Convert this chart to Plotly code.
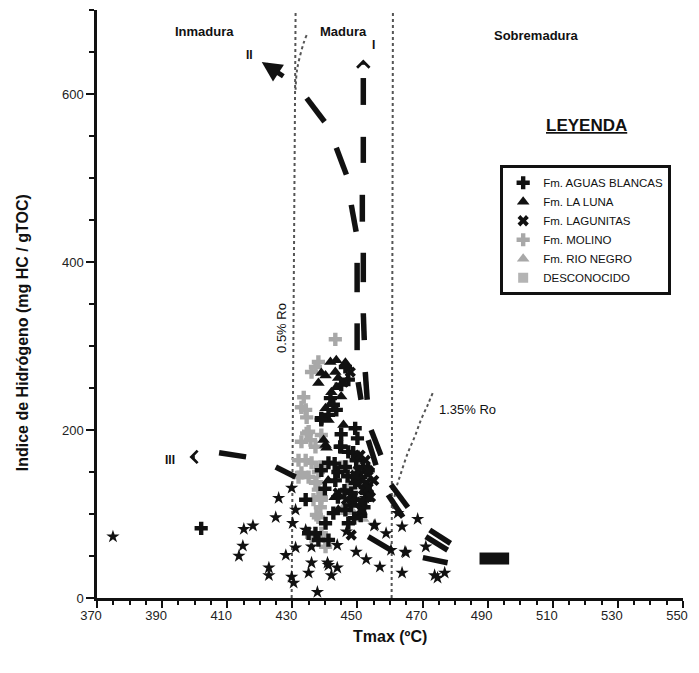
import plotly.graph_objects as go

# ---------------- data ----------------
# Samples without legend entry (black stars)
STAR_T = [374.9, 425.8, 424.9, 415.1, 417.9, 414.8, 413.6, 422.8, 422.8, 428.0, 429.8, 431.0, 430.1, 431.0, 429.8,
          430.4, 435.9, 437.7, 435.0, 435.9, 441.1, 442.0, 443.8, 434.1, 443.8, 440.8, 449.6, 452.7, 456.9, 455.1,
          458.8, 460.3, 464.6, 463.7, 463.7, 451.8, 452.4, 468.5, 464.9, 471.0, 473.7, 476.8, 474.6, 462.4, 446.6, 455.4]
STAR_HI = [73, 119, 96, 82, 86, 62, 50, 36, 27, 51, 131, 105, 89, 60, 25,
           18, 61, 7, 30, 42, 39, 27, 36, 81, 63, 42, 55, 46, 37, 86,
           77, 57, 55, 30, 85, 106, 119, 94, 54, 61, 27, 30, 24, 101, 79, 87]

# Fm. AGUAS BLANCAS
AB_T = [446.3, 447.2, 445.0, 441.7, 442.6, 443.5, 438.9, 441.1, 449.3, 445.0, 447.2, 441.1, 448.7, 449.6, 451.8,
        402.0, 438.9, 444.7, 446.3, 451.1, 443.2, 434.1, 448.1, 449.3, 452.4, 442.6, 446.3, 440.2, 447.2, 437.1,
        441.1, 449.3, 453.3, 452.4, 438.9, 435.0, 438.0, 445.0, 450.0, 447.0, 444.0, 450.0, 453.0, 446.0, 443.0,
        448.0, 451.0, 444.0, 440.0, 449.0, 452.0]
AB_HI = [275, 260, 254, 238, 230, 224, 214, 218, 202, 180, 174, 161, 173, 164, 156,
         83, 212, 180, 156, 144, 140, 117, 125, 117, 117, 101, 105, 89, 89, 77,
         69, 137, 152, 132, 152, 77, 69, 195, 190, 145, 150, 140, 125, 128, 160,
         110, 98, 120, 130, 95, 108]

# Fm. LA LUNA
LL_T = [441.7, 438.0, 444.1, 440.2, 443.2, 443.5, 440.2, 439.6, 440.2, 446.3, 443.5, 438.9, 440.5, 442.0, 444.1,
        441.1, 445.7, 442.0, 445.0, 441.0, 443.0]
LL_HI = [281, 256, 262, 265, 269, 251, 226, 188, 182, 280, 283, 268, 179, 232, 105,
         212, 206, 245, 240, 140, 120]

# Fm. LAGUNITAS
LG_T = [448.1, 451.1, 452.7, 453.3, 452.4, 451.1, 450.2, 451.8, 449.3, 450.8, 453.3, 446.6, 444.1, 445.7, 447.8,
        455.0, 454.0]
LG_HI = [75, 114, 137, 152, 164, 105, 152, 129, 146, 170, 131, 117, 125, 257, 269,
         140, 120]

# Fm. MOLINO
MO_T = [443.2, 438.0, 435.9, 437.1, 433.5, 432.8, 434.1, 434.4, 434.4, 435.6, 437.1, 432.8, 434.1, 435.9, 438.6,
        438.9, 435.0, 431.9, 438.0, 435.0, 431.9, 437.4, 438.0, 436.5, 438.6, 437.4, 438.9, 432.8, 437.1, 438.9,
        438.0, 438.9, 435.9, 440.2, 440.2]
MO_HI = [308, 281, 269, 275, 239, 227, 224, 215, 196, 188, 180, 186, 164, 161, 156,
         194, 198, 164, 150, 144, 144, 138, 129, 117, 108, 99, 120, 149, 137, 117,
         96, 77, 73, 69, 61]

# Fm. RIO NEGRO
RN_T = [451.8, 447.8, 446.3, 448.7, 450.2, 445.7]
RN_HI = [94, 105, 102, 102, 156, 108]

# DESCONOCIDO
DS_T = [449.6, 447.8, 445.7]
DS_HI = [149, 135, 158]

# Iso-reflectance (Ro) dotted lines: (Tmax, HI) vertices
RO05_T = [429.8, 431.0]
RO05_HI = [0, 697]
RO05_TOP_T = [434.4, 433.5, 431.5, 431.0]
RO05_TOP_HI = [670, 661, 630, 605]
RO_V460_T = [460.5, 460.9]
RO_V460_HI = [0, 697]
RO135_T = [473.1, 471.6, 469.5, 467.6, 465.5, 463.4, 461.8, 460.9]
RO135_HI = [244, 230, 212, 192, 173, 149, 129, 105]

# Kerogen evolution paths, drawn as dashes: [(T0, HI0, T1, HI1), ...]
KER_I = [(451.8, 619, 451.8, 587), (451.8, 549, 451.8, 518), (451.5, 480, 451.5, 448),
         (451.8, 411, 451.8, 376), (451.8, 339, 452.1, 307), (452.4, 269, 453.0, 236),
         (454.2, 200, 457.2, 170), (460.3, 135, 465.5, 108), (472.2, 81, 478.6, 65)]
KER_II = [(434.4, 595, 439.9, 567), (443.5, 536, 446.6, 504), (448.1, 468, 449.6, 436),
          (449.9, 399, 449.9, 364), (449.9, 327, 449.9, 295), (450.2, 257, 451.1, 236),
          (453.3, 188, 455.7, 158), (459.4, 123, 464.0, 96), (471.0, 73, 477.7, 57)]
KER_III = [(407.5, 173, 415.8, 168), (424.9, 156, 431.0, 144), (453.3, 73, 460.3, 57),
           (470.1, 48, 477.7, 42)]
KER_END = (487.5, 496.6, 47)  # common end block: T from, T to, HI

# Arrow heads of the paths: (tip T, tip HI, tail T, tail HI)
ARROW_I = (451.8, 641, 451.8, 633)
ARROW_II = (420.6, 638, 427.7, 620)
ARROW_III = (398.4, 168, 400.5, 168)

FONT = "Arial, Liberation Sans, sans-serif"
BLACK = "#111111"

fig = go.Figure()


def dash_trace(segments, width=5.5):
    xs, ys = [], []
    for t0, h0, t1, h1 in segments:
        xs += [t0, t1, None]
        ys += [h0, h1, None]
    return go.Scatter(x=xs, y=ys, mode="lines", line=dict(color=BLACK, width=width),
                      showlegend=False, hoverinfo="skip")


# Ro lines
for xs, ys in [(RO05_T, RO05_HI), (RO05_TOP_T, RO05_TOP_HI), (RO_V460_T, RO_V460_HI), (RO135_T, RO135_HI)]:
    fig.add_trace(go.Scatter(x=xs, y=ys, mode="lines", line=dict(color="#555555", width=2, dash="dot"),
                             showlegend=False, hoverinfo="skip", line_shape="spline"))

# points
fig.add_trace(go.Scatter(x=STAR_T, y=STAR_HI, mode="markers", showlegend=False,
                         marker=dict(symbol="star", size=10, color=BLACK)))
fig.add_trace(go.Scatter(x=MO_T, y=MO_HI, mode="markers", name="Fm. MOLINO", legendrank=4,
                         marker=dict(symbol="cross", size=11, color="#a8a8a8")))
fig.add_trace(go.Scatter(x=RN_T, y=RN_HI, mode="markers", name="Fm. RIO NEGRO", legendrank=5,
                         marker=dict(symbol="triangle-up", size=11, color="#a8a8a8")))
fig.add_trace(go.Scatter(x=DS_T, y=DS_HI, mode="markers", name="DESCONOCIDO", legendrank=6,
                         marker=dict(symbol="square", size=10, color="#b4b4b4")))
fig.add_trace(go.Scatter(x=LL_T, y=LL_HI, mode="markers", name="Fm. LA LUNA", legendrank=2,
                         marker=dict(symbol="triangle-up", size=11, color=BLACK)))
fig.add_trace(go.Scatter(x=AB_T, y=AB_HI, mode="markers", name="Fm. AGUAS BLANCAS", legendrank=1,
                         marker=dict(symbol="cross", size=11, color=BLACK)))
fig.add_trace(go.Scatter(x=LG_T, y=LG_HI, mode="markers", name="Fm. LAGUNITAS", legendrank=3,
                         marker=dict(symbol="x", size=10, color=BLACK)))

# kerogen paths
fig.add_trace(dash_trace(KER_I))
fig.add_trace(dash_trace(KER_II))
fig.add_trace(dash_trace(KER_III))
fig.add_trace(go.Scatter(x=[KER_END[0], KER_END[1]], y=[KER_END[2], KER_END[2]], mode="lines",
                         line=dict(color=BLACK, width=12), showlegend=False, hoverinfo="skip"))

for (tx, ty, ax, ay), head, w, s in [(ARROW_I, 4, 3, 0.8), (ARROW_II, 2, 5, 0.8), (ARROW_III, 4, 3, 0.8)]:
    fig.add_annotation(x=tx, y=ty, ax=ax, ay=ay, xref="x", yref="y", axref="x", ayref="y",
                       showarrow=True, arrowhead=head, arrowsize=s, arrowwidth=w, arrowcolor=BLACK, text="")


def label(x, y, text, size=13, bold=True, angle=0, color="#111111"):
    t = f"<b>{text}</b>" if bold else text
    fig.add_annotation(x=x, y=y, xref="x", yref="y", text=t, showarrow=False, textangle=angle,
                       font=dict(family=FONT, size=size, color=color))


label(416.7, 646, "II", size=12)
label(454.8, 658, "I", size=12)
label(392.3, 164, "III", size=12)
label(403, 674, "Inmadura", size=13)
label(445.7, 674, "Madura", size=13)
label(505, 670, "Sobremadura", size=13)
label(520.4, 563, "<u>LEYENDA</u>", size=17)
label(426.7, 321, "0.5% Ro", size=13, bold=False, angle=-90)
label(483.8, 224, "1.35% Ro", size=13, bold=False)

fig.add_annotation(x=-0.128, y=0.452, xref="paper", yref="paper", showarrow=False, textangle=-90,
                   xanchor="center", yanchor="middle",
                   text="<b>Indice de Hidrógeno (mg HC / gTOC)</b>",
                   font=dict(family=FONT, size=16, color="#111111"))
fig.add_annotation(x=0.5, y=-0.066, xref="paper", yref="paper", showarrow=False,
                   xanchor="center", yanchor="middle",
                   text="<b>Tmax (ºC)</b>", font=dict(family=FONT, size=16, color="#111111"))

# page body has an 8px margin: figure sized/positioned to compensate
fig.update_layout(
    width=691, height=665,
    margin=dict(l=89, r=16, t=2, b=75),
    paper_bgcolor="white", plot_bgcolor="white",
    font=dict(family=FONT, size=13, color="#222222"),
    showlegend=True,
    legend=dict(x=0.688, y=0.736, xanchor="left", yanchor="top",
                bordercolor="#111111", borderwidth=3, bgcolor="white",
                font=dict(family=FONT, size=11.5, color="#111111"),
                itemsizing="trace", tracegroupgap=0),
)
fig.update_xaxes(range=[370, 550], tick0=370, dtick=20, ticks="outside", ticklen=7, tickwidth=2,
                 tickcolor=BLACK, showline=True, linecolor=BLACK, linewidth=2.5, showgrid=False,
                 zeroline=False, tickfont=dict(size=13), ticklabelshift=-6, ticklabelstandoff=-3,
                 minor=dict(tick0=370, dtick=5, ticks="outside", ticklen=4, tickwidth=2, tickcolor=BLACK,
                            showgrid=False))
fig.update_yaxes(range=[0, 700], tick0=0, dtick=200, ticks="outside", ticklen=8, tickwidth=2,
                 tickcolor=BLACK, showline=True, linecolor=BLACK, linewidth=2.5, showgrid=False,
                 zeroline=False, tickfont=dict(size=13),
                 minor=dict(tick0=0, dtick=50, ticks="outside", ticklen=5, tickwidth=2, tickcolor=BLACK,
                            showgrid=False))

fig.write_html("out.html")
